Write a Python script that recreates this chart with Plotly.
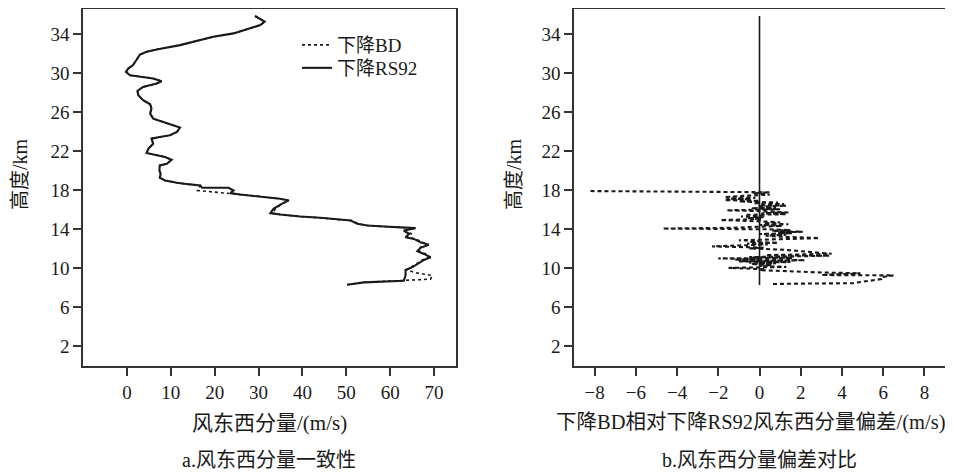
import plotly.graph_objects as go

# ---- data ----
rs92_u = [29.2, 31.4, 30.4, 28.1, 24.3, 19.7, 16.7, 12.1, 6.8, 4.5, 3.0, 2.2, 1.4, 0.3, -0.2, 0.7, 3.0, 6.0, 7.9,
          6.8, 3.7, 2.4, 2.6, 3.7, 5.3, 5.6, 5.3, 6.0, 8.3, 9.4, 10.6, 12.1, 11.4, 9.8, 7.5, 5.6, 6.0, 4.9, 4.5,
          6.8, 8.7, 10.2, 9.1, 7.5, 7.4, 7.7, 7.5, 8.7, 11.4, 14.4, 16.7, 17.1, 20.5, 23.2, 24.3, 23.6, 25.8,
          30.4, 34.9, 36.9, 35.3, 33.4, 32.7, 34.9, 39.5, 44.1, 48.7, 51.0, 52.5, 54.8, 58.6, 62.4, 65.8, 63.1,
          64.3, 63.5, 65.4, 66.9, 68.8, 66.9, 66.2, 67.7, 69.2, 67.7, 66.2, 65.0, 63.5, 63.5, 63.1, 58.6, 54.0,
          50.2]
rs92_h = [35.85, 35.27, 34.92, 34.58, 34.07, 33.73, 33.38, 32.87, 32.43, 32.19, 31.91, 31.33, 30.82, 30.47,
          30.13, 29.79, 29.62, 29.45, 29.17, 28.94, 28.59, 28.18, 27.74, 27.22, 26.81, 26.37, 25.85, 25.34,
          25.0, 24.83, 24.66, 24.42, 23.97, 23.63, 23.46, 23.29, 22.78, 22.26, 21.82, 21.58, 21.41, 21.13,
          20.72, 20.55, 20.04, 19.69, 19.28, 19.01, 18.77, 18.60, 18.5, 18.26, 18.22, 18.26, 17.98, 17.71,
          17.57, 17.37, 17.13, 16.96, 16.61, 16.10, 15.66, 15.52, 15.31, 15.18, 14.97, 14.90, 14.56, 14.39,
          14.29, 14.22, 14.12, 13.88, 13.53, 13.19, 13.02, 12.68, 12.41, 12.10, 11.76, 11.48, 11.14, 10.86,
          10.45, 10.11, 9.84, 9.26, 8.74, 8.64, 8.57, 8.33]

bd_u = [29.2, 31.4, 30.4, 28.1, 24.3, 19.7, 16.7, 12.1, 6.8, 4.5, 3.0, 2.2, 1.4, 0.3, -0.2, 0.7, 3.0, 6.0, 7.9,
        6.8, 3.7, 2.4, 2.6, 3.7, 5.3, 5.6, 5.3, 6.0, 8.3, 9.4, 10.6, 12.1, 11.4, 9.8, 7.5, 5.6, 6.0, 4.9, 4.5,
        6.8, 8.7, 10.2, 9.1, 7.5, 7.4, 7.7, 7.5, 8.7, 11.4, 14.4, 16.7, 16.1, 21.6, 23.6, 25.8,
        30.4, 34.9, 36.9, 35.3, 33.9, 33.0, 34.9, 39.5, 44.1, 48.7, 51.4, 52.8, 54.8, 58.6, 62.4, 65.4, 63.6,
        64.8, 63.8, 65.8, 67.3, 68.6, 66.5, 66.6, 68.1, 68.8, 67.3, 66.0, 64.6, 63.8, 65.4, 69.6, 69.2, 63.1,
        58.6, 54.0, 50.2]
bd_h = [35.85, 35.27, 34.92, 34.58, 34.07, 33.73, 33.38, 32.87, 32.43, 32.19, 31.91, 31.33, 30.82, 30.47,
        30.13, 29.79, 29.62, 29.45, 29.17, 28.94, 28.59, 28.18, 27.74, 27.22, 26.81, 26.37, 25.85, 25.34,
        25.0, 24.83, 24.66, 24.42, 23.97, 23.63, 23.46, 23.29, 22.78, 22.26, 21.82, 21.58, 21.41, 21.13,
        20.72, 20.55, 20.04, 19.69, 19.28, 19.01, 18.77, 18.60, 18.5, 17.98, 17.76, 17.71,
        17.57, 17.37, 17.13, 16.96, 16.61, 16.10, 15.66, 15.52, 15.31, 15.18, 14.97, 14.90, 14.56, 14.39,
        14.29, 14.22, 14.12, 13.88, 13.53, 13.19, 13.02, 12.68, 12.41, 12.10, 11.76, 11.48, 11.14, 10.86,
        10.45, 10.11, 9.84, 9.6, 9.26, 8.9, 8.74, 8.64, 8.57, 8.33]

dev_u = [-8.2, -1.5, 0.5, -0.3, 0.5, -0.6, -1.7, -0.2, -1.6, -0.4, -1.7, 0.0, -1.0, 0.9, -0.3, 1.2, 0.0, 1.3,
         -0.1, 0.8, -0.4, 1.0, -1.6, -0.2, 0.4, 1.4, 0.1, 1.3, -0.7, 0.3, -0.9, 0.2, -0.6, 0.1, -1.9, -0.6,
         0.3, 1.0, 0.2, 1.4, 0.0, 1.1, -0.2, -1.5, -4.7, -0.4, 0.4, 1.5, 0.6, 2.1, 0.9, 1.6, 0.0, 1.3, 0.3,
         1.0, 1.8, 2.9, 1.6, 0.2, -1.0, 0.0, -0.5, 0.9, -0.6, 0.4, -1.2, -2.3, -0.8, 0.2, -0.5, 0.6, 1.2,
         1.8, 2.3, 2.8, 3.5, 1.8, 0.3, 3.4, 1.2, -0.5, 1.6, -2.0, 0.0, -1.2, 2.2, 0.2, -1.0, 1.5, -0.5, 0.8,
         -0.4, 0.6, 0.0, 1.3, -0.2, -1.5, -0.6, 0.3, 0.0, 1.1, 1.9, 3.0, 4.9, 3.6, 3.0, 6.5, 5.9, 5.9, 4.5,
         2.0, 0.6]
dev_h = [17.92, 17.85, 17.80, 17.70, 17.55, 17.45, 17.30, 17.22, 17.15, 17.08, 17.00, 16.92, 16.85, 16.75,
         16.68, 16.58, 16.50, 16.42, 16.35, 16.25, 16.15, 16.05, 15.95, 15.88, 15.80, 15.72, 15.65, 15.55,
         15.48, 15.40, 15.32, 15.25, 15.15, 15.05, 14.95, 14.88, 14.80, 14.70, 14.62, 14.52, 14.45, 14.35,
         14.25, 14.15, 14.08, 14.04, 14.00, 13.92, 13.85, 13.75, 13.68, 13.60, 13.52, 13.45, 13.35, 13.25,
         13.18, 13.10, 13.02, 12.95, 12.88, 12.80, 12.72, 12.62, 12.55, 12.45, 12.32, 12.25, 12.18, 12.12,
         12.05, 11.98, 11.90, 11.80, 11.70, 11.60, 11.50, 11.42, 11.35, 11.30, 11.22, 11.15, 11.08, 11.02,
         10.96, 10.90, 10.84, 10.78, 10.72, 10.65, 10.58, 10.52, 10.45, 10.35, 10.25, 10.15, 10.10, 10.05,
         9.98, 9.90, 9.82, 9.72, 9.64, 9.58, 9.50, 9.42, 9.32, 9.28, 9.10, 8.90, 8.48, 8.44, 8.40]

zero_u = [0, 0]
zero_h = [8.3, 35.85]

y_ticks = [2, 6, 10, 14, 18, 22, 26, 30, 34]
xa_ticks = [0, 10, 20, 30, 40, 50, 60, 70]
xb_ticks = [-8, -6, -4, -2, 0, 2, 4, 6, 8]

# page body has an 8px margin: lay out in page pixels and convert
OFF = 8
W, H = 953 - OFF, 473 - OFF
SERIF = '"Liberation Serif", "Times New Roman", "Noto Sans CJK SC", serif'
INK = "#1a1a1a"


def px_x(p):
    return min(1.0, max(0.0, (p - OFF) / W))


def px_y(p):
    return min(1.0, max(0.0, 1 - (p - OFF) / H))


fig = go.Figure()
fig.add_trace(go.Scatter(x=bd_u, y=bd_h, mode="lines", name="下降BD", xaxis="x", yaxis="y", legend="legend",
                         line=dict(color=INK, width=1.6, dash="3px,3px")))
fig.add_trace(go.Scatter(x=rs92_u, y=rs92_h, mode="lines", name="下降RS92", xaxis="x", yaxis="y",
                         legend="legend2", line=dict(color=INK, width=2.1)))
fig.add_trace(go.Scatter(x=dev_u, y=dev_h, mode="lines", showlegend=False, xaxis="x2", yaxis="y2",
                         line=dict(color=INK, width=2.1, dash="4px,3px")))
fig.add_trace(go.Scatter(x=zero_u, y=zero_h, mode="lines", showlegend=False, xaxis="x2", yaxis="y2",
                         line=dict(color=INK, width=1.6)))

axis_common = dict(showline=True, mirror=True, linecolor="#333", linewidth=1.5, showgrid=False,
                   zeroline=False, ticks="outside", ticklen=8, tickwidth=1.5, tickcolor="#333",
                   tickfont=dict(family=SERIF, size=19, color=INK), automargin=False)

legend_common = dict(xanchor="left", yanchor="middle", bgcolor="rgba(0,0,0,0)",
                     font=dict(family=SERIF, size=19, color=INK))

fig.update_layout(
    width=W, height=H, margin=dict(l=0, r=0, t=0, b=0),
    paper_bgcolor="white", plot_bgcolor="white",
    xaxis=dict(domain=[px_x(83), px_x(456)], range=[-10, 75], tickvals=xa_ticks, anchor="y", **axis_common),
    yaxis=dict(domain=[px_y(366), px_y(9)], range=[0, 36.57], tickvals=y_ticks, anchor="x", **axis_common),
    xaxis2=dict(domain=[px_x(574), px_x(945)], range=[-9, 9], tickvals=xb_ticks, anchor="y2", **axis_common),
    yaxis2=dict(domain=[px_y(366), px_y(9)], range=[0, 36.57], tickvals=y_ticks, anchor="x2", **axis_common),
    legend=dict(x=px_x(297), y=px_y(45), **legend_common),
    legend2=dict(x=px_x(297), y=px_y(68), **legend_common),
    showlegend=True,
)

ann = [
    ("风东西分量/(m/s)", 269, 423, 0, 21),
    ("a.风东西分量一致性", 269, 460, 0, 20),
    ("下降BD相对下降RS92风东西分量偏差/(m/s)", 751, 422, 0, 20.5),
    ("b.风东西分量偏差对比", 759, 460, 0, 20),
    ("高度/km", 20, 174, -90, 20),
    ("高度/km", 514, 174, -90, 20),
]
for text, x, y, ang, size in ann:
    fig.add_annotation(text=text, x=px_x(x), y=px_y(y), xref="paper", yref="paper",
                       xanchor="center", yanchor="middle", showarrow=False, textangle=ang,
                       font=dict(family=SERIF, size=size, color=INK))

fig.write_html("out.html")
